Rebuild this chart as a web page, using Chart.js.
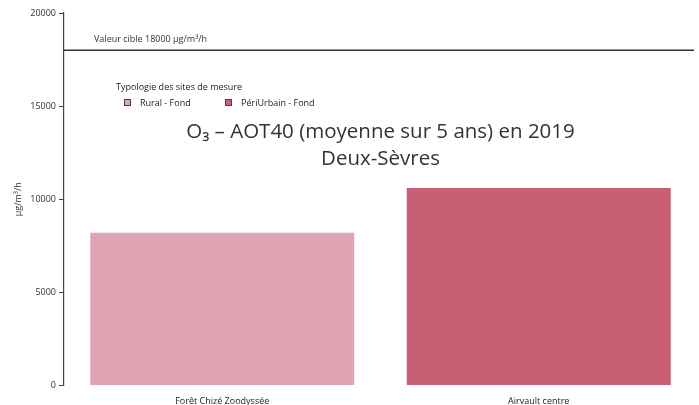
<!DOCTYPE html>
<html>
<head>
<meta charset="utf-8">
<script src="https://cdn.jsdelivr.net/npm/chart.js@4/dist/chart.umd.min.js"></script>
<style>
  html, body { margin: 0; padding: 0; background: #fff; }
  #wrap { width: 699px; height: 405px; }
</style>
</head>
<body>
<div id="wrap"><canvas id="c" width="699" height="405"></canvas></div>
<script>
// Sites and their AOT40 (5-year mean), µg/m³/h
const sites = ['Forêt Chizé Zoodyssée', 'Airvault centre'];
const aot40 = [8200, 10600];
const siteTypology = ['Rural - Fond', 'PériUrbain - Fond'];

// Legend entries
const typologies = ['Rural - Fond', 'PériUrbain - Fond'];
const typologyColors = ['#e0a4b2', '#c95f74'];

// Y axis ticks
const yMin = 0, yMax = 20000, yStep = 5000;

// Target value line
const targetValue = 18000;
const targetLabel = 'Valeur cible 18000 µg/m³/h';
const unitLabel = 'µg/m³/h';

const titleLines = ['O₃ – AOT40 (moyenne sur 5 ans) en 2019', 'Deux-Sèvres'];
const legendTitle = 'Typologie des sites de mesure';

const FONT = '"Open Sans", "Noto Sans", sans-serif';

const barColors = siteTypology.map(t => typologyColors[typologies.indexOf(t)]);

const overlay = {
  id: 'overlay',
  afterDatasetsDraw(chart) {
    const { ctx, chartArea, scales } = chart;
    const y = scales.y;
    ctx.save();

    // target line
    const ty = y.getPixelForValue(targetValue);
    ctx.strokeStyle = '#333';
    ctx.lineWidth = 1.5;
    ctx.beginPath();
    ctx.moveTo(chartArea.left, ty);
    ctx.lineTo(chartArea.right - 3, ty);
    ctx.stroke();

    ctx.fillStyle = '#333';
    ctx.font = '9px ' + FONT;
    ctx.textAlign = 'left';
    ctx.textBaseline = 'middle';
    ctx.fillText(targetLabel, 94, ty - 11);

    // legend
    ctx.fillStyle = '#222';
    ctx.font = '9px ' + FONT;
    ctx.fillText(legendTitle, 116, 87);
    const itemX = [124, 225];
    typologies.forEach((t, i) => {
      const x = itemX[i];
      ctx.fillStyle = typologyColors[i];
      ctx.fillRect(x, 99, 7, 7);
      ctx.strokeStyle = '#444';
      ctx.lineWidth = 1;
      ctx.strokeRect(x + 0.5, 99.5, 6, 6);
      ctx.fillStyle = '#222';
      ctx.fillText(t, x + 16, 103);
    });

    // title inside the plot
    ctx.fillStyle = '#333';
    ctx.font = '20.5px ' + FONT;
    ctx.textAlign = 'center';
    const cx = (chartArea.left + chartArea.right) / 2;
    ctx.fillText(titleLines[0], cx, 132);
    ctx.fillText(titleLines[1], cx, 159);

    // y axis unit, rotated
    ctx.translate(18, (chartArea.top + chartArea.bottom) / 2);
    ctx.rotate(-Math.PI / 2);
    ctx.font = '9px ' + FONT;
    ctx.fillStyle = '#333';
    ctx.fillText(unitLabel, 0, 0);

    ctx.restore();
  }
};

new Chart(document.getElementById('c'), {
  type: 'bar',
  data: {
    labels: sites,
    datasets: [{
      data: aot40,
      backgroundColor: barColors,
      borderWidth: 0,
      barPercentage: 0.834,
      categoryPercentage: 1
    }]
  },
  options: {
    responsive: false,
    animation: false,
    devicePixelRatio: 1,
    layout: { padding: { top: 13, right: 2, left: 0, bottom: 0 } },
    plugins: {
      legend: { display: false },
      tooltip: { enabled: false },
      title: { display: false }
    },
    scales: {
      x: {
        grid: { display: false },
        border: { display: false },
        ticks: { color: '#222', font: { family: FONT, size: 9 }, padding: 3 },
        afterFit(scale) { scale.height = 19.5; }
      },
      y: {
        min: yMin,
        max: yMax,
        grid: { display: true, drawOnChartArea: false, tickLength: 5, color: '#444', lineWidth: 1 },
        border: { display: true, color: '#444', width: 1.2 },
        ticks: {
          stepSize: yStep, color: '#333', font: { family: FONT, size: 9 }, padding: 3,
          callback: v => String(v)
        },
        afterFit(scale) { scale.width = 64; }
      }
    }
  },
  plugins: [overlay]
});
</script>
</body>
</html>
